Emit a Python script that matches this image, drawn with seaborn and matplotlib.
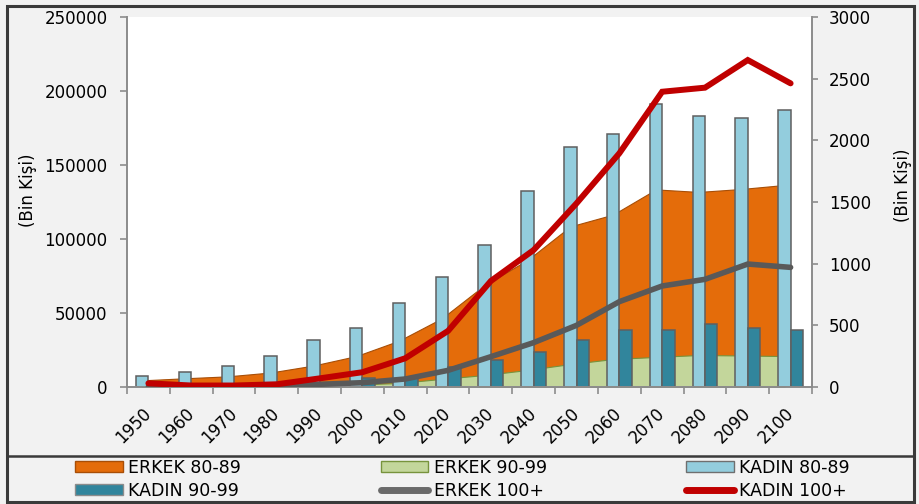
import numpy as np
import pandas as pd
import matplotlib
matplotlib.use("Agg")
import matplotlib.pyplot as plt
import seaborn as sns
from matplotlib.patches import Patch, Rectangle
from matplotlib.lines import Line2D

years = [1950, 1960, 1970, 1980, 1990, 2000, 2010, 2020, 2030, 2040,
         2050, 2060, 2070, 2080, 2090, 2100]
erkek_80_89 = [4500, 5900, 7200, 9800, 14500, 20900, 31300, 46400, 68900, 85800,
               108500, 116500, 133500, 131800, 133800, 136500]
erkek_90_99 = [300, 400, 500, 700, 1100, 1700, 2700, 5500, 8100, 11500,
               15500, 18900, 20300, 21600, 21300, 20900]
kadin_80_89 = [7400, 10100, 14200, 20900, 31800, 39900, 56600, 74100, 96000, 132600,
               162400, 171000, 191200, 183100, 181600, 187200]
kadin_90_99 = [500, 800, 1200, 1800, 3000, 5900, 7000, 13600, 18200, 23800,
               31800, 38500, 38500, 42600, 39900, 38500]
erkek_100 = [5, 5, 5, 8, 22, 35, 65, 135, 246, 360, 500, 692, 819, 873, 997, 970]
kadin_100 = [30, 12, 12, 22, 70, 120, 233, 455, 860, 1111, 1489, 1895, 2394, 2427, 2651, 2462]

left_ticks = [0, 50000, 100000, 150000, 200000, 250000]
right_ticks = [0, 500, 1000, 1500, 2000, 2500, 3000]
ylabel = "(Bin Kişi)"

C_ORANGE = "#e46c0a"
C_GREEN = "#c3d69b"
C_LBLUE = "#93cddd"
C_TEAL = "#31859c"
C_GRAY = "#595959"
C_RED = "#c00000"
C_AXIS = "#8c8c8c"

plt.rcParams["font.family"] = ["DejaVu Sans"]
plt.rcParams["font.size"] = 12

fig = plt.figure(figsize=(9.2, 5.04), dpi=100)
fig.patch.set_facecolor("#f2f2f2")
ax = fig.add_axes([127/920, 1-387/504, (812-127)/920, (387-17)/504])
ax.set_facecolor("white")

labels = [str(y) for y in years]
n = len(years)
idx = np.arange(n)
bw = 0.29

# areas (drawn behind the bars)
ax.fill_between(idx - bw/2, 0, erkek_80_89, facecolor=C_ORANGE, edgecolor="#a84e06",
                linewidth=0.8, zorder=0.5)
ax.fill_between(idx - bw/2, 0, erkek_90_99, facecolor=C_GREEN, edgecolor="#77933c",
                linewidth=0.8, zorder=0.6)

bars = pd.DataFrame({
    "year": labels * 2,
    "series": ["KADIN 80-89"] * n + ["KADIN 90-99"] * n,
    "value": kadin_80_89 + kadin_90_99,
})
sns.barplot(data=bars, x="year", y="value", hue="series", order=labels,
            hue_order=["KADIN 80-89", "KADIN 90-99"],
            palette={"KADIN 80-89": C_LBLUE, "KADIN 90-99": C_TEAL},
            saturation=1, width=2*bw, gap=0, edgecolor="#5f5f5f", linewidth=1.1,
            errorbar=None, legend=False, ax=ax, zorder=1)

ax.set_xlim(-0.5, n - 0.5)
ax.set_ylim(0, 250000)
ax.set_yticks(left_ticks)
ax.set_yticklabels([str(v) for v in left_ticks])
ax.set_xticks(idx)
ax.set_xticklabels(labels, rotation=45, ha="right", va="center", rotation_mode="anchor")
ax.set_xticks(np.arange(-0.5, n, 1), minor=True)
ax.tick_params(axis="x", which="major", length=0, pad=17)
ax.tick_params(axis="x", which="minor", length=5, color=C_AXIS, width=1.2)
ax.tick_params(axis="y", length=5, color=C_AXIS, width=1.2, pad=9)
ax.set_xlabel("")
ax.set_ylabel("")
for s in ["top", "right"]:
    ax.spines[s].set_visible(False)
for s in ["left", "bottom"]:
    ax.spines[s].set_color(C_AXIS)
    ax.spines[s].set_linewidth(1.4)

ax2 = ax.twinx()
sns.lineplot(x=idx, y=erkek_100, color=C_GRAY, linewidth=4.0, ax=ax2,
             solid_capstyle="round", solid_joinstyle="miter")
sns.lineplot(x=idx, y=kadin_100, color=C_RED, linewidth=4.3, ax=ax2,
             solid_capstyle="round", solid_joinstyle="miter")
ax2.set_ylim(0, 3000)
ax2.set_yticks(right_ticks)
ax2.set_yticklabels([str(v) for v in right_ticks])
ax2.set_xlim(-0.5, n - 0.5)
ax2.tick_params(axis="y", length=4, color=C_AXIS, width=1.2, pad=8)
ax2.set_ylabel("")
ax2.set_xlabel("")
for s in ["top", "left", "bottom"]:
    ax2.spines[s].set_visible(False)
ax2.spines["right"].set_color(C_AXIS)
ax2.spines["right"].set_linewidth(1.4)

fig.text(28/920, 1-190/504, ylabel, rotation=90, ha="center", va="center", fontsize=12)
fig.text(903/920, 1-185/504, ylabel, rotation=90, ha="center", va="center", fontsize=12)

handles = [
    Patch(facecolor=C_ORANGE, edgecolor="#a84e06", linewidth=1.0, label="ERKEK 80-89"),
    Patch(facecolor=C_TEAL, edgecolor="#8c8c8c", linewidth=1.0, label="KADIN 90-99"),
    Patch(facecolor=C_GREEN, edgecolor="#77933c", linewidth=1.0, label="ERKEK 90-99"),
    Line2D([0], [0], color="#6a6a6a", linewidth=5, solid_capstyle="round", label="ERKEK 100+"),
    Patch(facecolor=C_LBLUE, edgecolor="#6f6f6f", linewidth=1.0, label="KADIN 80-89"),
    Line2D([0], [0], color=C_RED, linewidth=5, solid_capstyle="round", label="KADIN 100+"),
]
fig.legend(handles=handles, ncol=3, loc="center left",
           bbox_to_anchor=(75/920, 1-479.5/504), frameon=False,
           fontsize=12.5, handlelength=2.75, handleheight=0.6, handletextpad=0.3,
           columnspacing=8.05, labelspacing=0.3, borderpad=0, borderaxespad=0)

fig.add_artist(Rectangle((7/920, 1-502/504), (914-7)/920, (502-6)/504, fill=False,
                         linewidth=2.2, edgecolor="#3a3a3a", transform=fig.transFigure))
fig.add_artist(Line2D([7/920, 914/920], [1-456/504, 1-456/504], color="#3a3a3a",
                      linewidth=1.8, transform=fig.transFigure))

fig.savefig("out.png", dpi=100, facecolor=fig.get_facecolor())
